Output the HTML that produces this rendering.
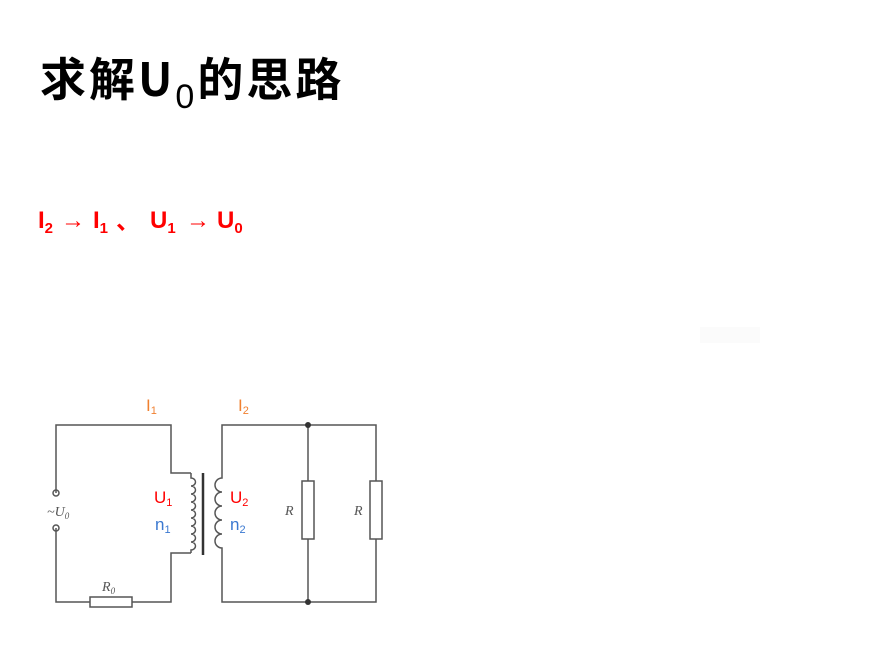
<!DOCTYPE html>
<html><head><meta charset="utf-8"><style>
body{margin:0;width:895px;height:665px;background:#fff;position:relative;overflow:hidden;font-family:"Liberation Sans","Noto Sans CJK SC",sans-serif}
.t{position:absolute;white-space:nowrap}
.r{position:absolute;white-space:nowrap;top:207px;font-size:24px;font-weight:bold;color:#f00;font-family:'Liberation Sans Narrow','Liberation Sans','Noto Sans CJK SC',sans-serif}
.r sub{font-size:15px;vertical-align:-5px}
</style></head><body>
<div class="t" style="left:40px;top:44px;font-size:46px;font-weight:bold;color:#000;font-family:'Noto Sans CJK SC','Liberation Sans',sans-serif;letter-spacing:3px">求解U<span style="font-weight:normal;font-size:34px;vertical-align:-12px;font-family:'Liberation Sans',sans-serif">0</span>的思路</div>
<div class="r" style="left:38px">I<sub>2</sub></div>
<div class="r" style="left:61px;font-weight:normal">→</div>
<div class="r" style="left:93px">I<sub>1</sub></div>
<div class="r" style="left:116px;top:201px;font-family:'Noto Sans CJK SC',sans-serif">、</div>
<div class="r" style="left:150px">U<sub>1</sub></div>
<div class="r" style="left:186px;font-weight:normal">→</div>
<div class="r" style="left:217px">U<sub>0</sub></div>
<div style="position:absolute;left:700px;top:327px;width:60px;height:16px;background:#fbfbfb"></div>
<svg width="895" height="665" style="position:absolute;left:0;top:0" font-family="Liberation Sans,sans-serif">
<g fill="none" stroke="#555" stroke-width="1.5">
<polyline points="56,493 56,425 171,425 171,473 191,473"/>
<polyline points="191,553 171,553 171,602 132,602"/>
<polyline points="90,602 56,602 56,528"/>
<rect x="90" y="597" width="42" height="10"/>
<circle cx="56" cy="493" r="3"/><circle cx="56" cy="528" r="3"/>
<path d="M191,473 v5 a4.5,4 0 0 1 0,8 a4.5,4 0 0 1 0,8 a4.5,4 0 0 1 0,8 a4.5,4 0 0 1 0,8 a4.5,4 0 0 1 0,8 a4.5,4 0 0 1 0,8 a4.5,4 0 0 1 0,8 a4.5,4 0 0 1 0,8 a4.5,4 0 0 1 0,8 v3"/>
<path d="M222,473 v5 a7,7 0 0 0 0,14 a7,7 0 0 0 0,14 a7,7 0 0 0 0,14 a7,7 0 0 0 0,14 a7,7 0 0 0 0,14 v5"/>
<polyline points="222,553 222,602 376,602 376,539"/>
<polyline points="376,481 376,425 222,425 222,473"/>
<line x1="308" y1="425" x2="308" y2="481"/><line x1="308" y1="539" x2="308" y2="602"/>
<rect x="302" y="481" width="12" height="58"/><rect x="370" y="481" width="12" height="58"/>
</g>
<line x1="203" y1="473" x2="203" y2="555" stroke="#333" stroke-width="2.5"/>
<circle cx="308" cy="425" r="3" fill="#333"/><circle cx="308" cy="602" r="3" fill="#333"/>
<g font-family="Liberation Serif,serif" font-style="italic" fill="#555" font-size="14">
<text x="47" y="516">~U<tspan font-size="9" dy="3">0</tspan></text>
<text x="102" y="591">R<tspan font-size="9" dy="3">0</tspan></text>
<text x="285" y="515">R</text><text x="354" y="515">R</text>
</g>
<g font-size="17">
<text x="146" y="411" fill="#f08030">I<tspan font-size="11" dy="3">1</tspan></text>
<text x="238" y="411" fill="#f08030">I<tspan font-size="11" dy="3">2</tspan></text>
<text x="154" y="503" fill="#f00">U<tspan font-size="11" dy="3">1</tspan></text>
<text x="230" y="503" fill="#f00">U<tspan font-size="11" dy="3">2</tspan></text>
<text x="155" y="530" fill="#3a78d0">n<tspan font-size="11" dy="3">1</tspan></text>
<text x="230" y="530" fill="#3a78d0">n<tspan font-size="11" dy="3">2</tspan></text>
</g>
</svg>
</body></html>
